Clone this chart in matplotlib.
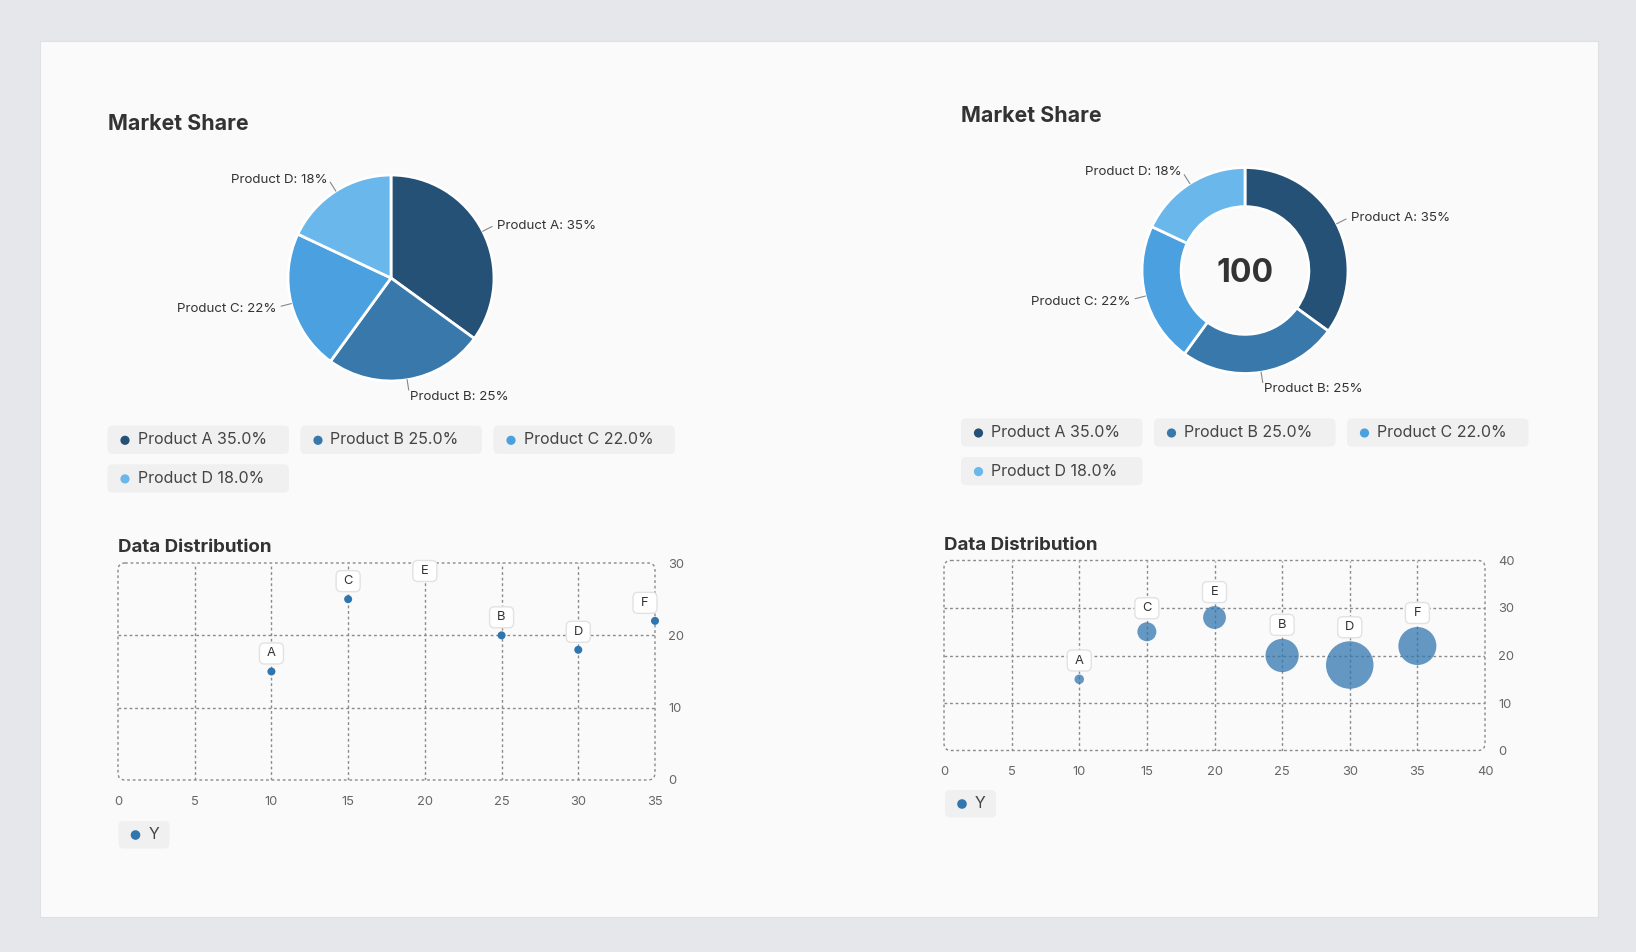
import numpy as np
import matplotlib
matplotlib.use("Agg")
import matplotlib.pyplot as plt
from matplotlib.patches import Rectangle, FancyBboxPatch, Circle

plt.rcParams['font.family'] = ['Inter', 'DejaVu Sans']

# data
products = ['Product A', 'Product B', 'Product C', 'Product D']
shares = [35, 25, 22, 18]
slice_colors = ['#245175', '#3878ab', '#4ba0e0', '#69b7eb']

pt_labels = ['A', 'B', 'C', 'D', 'E', 'F']
pt_x = [10, 25, 15, 30, 20, 35]
pt_y = [15, 20, 25, 18, 28, 22]
pt_z = [5, 17.5, 10, 25, 12, 20]

W, H = 1636, 952
fig = plt.figure(figsize=(W / 100, H / 100), dpi=100)
fig.patch.set_facecolor('#e6e7eb')


def rect(x0, y0, x1, y1):
    return [x0 / W, 1 - y1 / H, (x1 - x0) / W, (y1 - y0) / H]


bg = fig.add_axes([0, 0, 1, 1], zorder=0)
bg.set_xlim(0, W)
bg.set_ylim(H, 0)
bg.axis('off')
bg.add_patch(Rectangle((40, 41), 1558, 876, fc='#fafafa', ec='#e0e1e4', lw=0.8))

ov = fig.add_axes([0, 0, 1, 1], zorder=5)
ov.set_xlim(0, W)
ov.set_ylim(H, 0)
ov.axis('off')
ov.patch.set_alpha(0)

total = sum(shares)


def pie_panel(cx, cy, R, title_xy, legend_x, legend_y, donut):
    bg.text(title_xy[0], title_xy[1], 'Market Share', fontsize=15.4, fontweight='bold',
            color='#333333', va='center', ha='left')
    k = 1.7
    ax = fig.add_axes(rect(cx - k * R, cy - k * R, cx + k * R, cy + k * R), zorder=1)
    wp = dict(edgecolor='white', linewidth=2)
    if donut:
        wp['width'] = 0.38
    ax.pie(shares, colors=slice_colors, startangle=90, counterclock=False,
           radius=1, wedgeprops=wp)
    ax.set_xlim(-k, k)
    ax.set_ylim(-k, k)
    ax.patch.set_alpha(0)
    cum = 0
    for name, v in zip(products, shares):
        mid = np.deg2rad(90 - (cum + v / 2) / total * 360)
        cum += v
        c, s = np.cos(mid), np.sin(mid)
        ax.plot([1.0 * c, 1.1 * c], [1.0 * s, 1.1 * s], color='#888888', lw=0.8)
        ax.text(1.15 * c, 1.15 * s - 0.015, f'{name}: {v / total * 100:.0f}%', fontsize=9.6,
                color='#333333', ha='left' if c > 0 else 'right', va='center')
    if donut:
        ax.text(0, -0.03, f'{total}', fontsize=23, fontweight='bold', color='#333333',
                ha='center', va='center')
    # legend chips
    bw, bh, gap = 181.5, 28.2, 11.5
    for i, (name, v) in enumerate(zip(products, shares)):
        row, col = divmod(i, 3)
        x0 = legend_x + col * (bw + gap)
        y0 = legend_y + row * (bh + 10.4)
        bg.add_patch(FancyBboxPatch((x0, y0), bw, bh, boxstyle='round,pad=0,rounding_size=5',
                                    fc='#f0f0f0', ec='none'))
        bg.add_patch(Circle((x0 + 17.5, y0 + bh / 2 + 0.5), 4.6, fc=slice_colors[i], ec='none'))
        bg.text(x0 + 30, y0 + bh / 2, f'{name} {v / total * 100:.1f}%', fontsize=11.5,
                color='#444444', va='center', ha='left')


pie_panel(391, 278, 103, (107.5, 124.5), 107.5, 425.7, False)
pie_panel(1245, 270.5, 103, (961, 116.5), 961, 418.4, True)


def scatter_panel(x0, y0, x1, y1, xmax, ymax, bubble, title_xy, leg):
    bg.text(title_xy[0], title_xy[1], 'Data Distribution', fontsize=13.5, fontweight='bold',
            color='#333333', va='center', ha='left')
    ax = fig.add_axes(rect(x0, y0, x1, y1), zorder=1)
    ax.patch.set_alpha(0)
    ax.set_xlim(0, xmax)
    ax.set_ylim(0, ymax)
    xt = np.arange(0, xmax + 1, 5)
    yt = np.arange(0, ymax + 1, 10)
    ax.set_xticks(xt)
    ax.set_yticks(yt)
    for s in ax.spines.values():
        s.set_visible(False)
    ax.yaxis.tick_right()
    ax.tick_params(length=0, labelsize=9.3, colors='#666666')
    ax.tick_params(axis='x', pad=11.5)
    ax.tick_params(axis='y', pad=9.4)
    for v in xt[1:-1]:
        ax.axvline(v, color='#8a8a8a', lw=1, ls=(0, (2, 2)), zorder=1)
    for v in yt[1:-1]:
        ax.axhline(v, color='#8a8a8a', lw=1, ls=(0, (2, 2)), zorder=1)
    bg.add_patch(FancyBboxPatch((x0, y0), x1 - x0, y1 - y0,
                                boxstyle='round,pad=0,rounding_size=7',
                                fc='none', ec='#8a8a8a', lw=1, ls=(0, (2, 2))))
    if bubble:
        radii = [0.95 * z for z in pt_z]
        sizes = [(2 * r * 0.72) ** 2 for r in radii]
        ax.scatter(pt_x, pt_y, s=sizes, color='#3276ae', alpha=0.75, edgecolors='none',
                   zorder=3, clip_on=False)
    else:
        radii = [4] * len(pt_x)
        ax.scatter(pt_x, pt_y, s=(8 * 0.72) ** 2, color='#2f75ae', edgecolors='none',
                   zorder=3, clip_on=False)
    for lab, x, y, r in zip(pt_labels, pt_x, pt_y, radii):
        dx, dy = ax.transData.transform((x, y))
        px, py = dx, H - dy
        cy = max(py - (r + 14), y0 + 8)
        cx = min(px, x1 - 10)
        ov.add_patch(FancyBboxPatch((cx - 12, cy - 10.5), 24, 21,
                                    boxstyle='round,pad=0,rounding_size=5',
                                    fc='white', ec='#e2e2e2', lw=1))
        ov.text(cx, cy, lab, fontsize=9.3, color='#333333', ha='center', va='center')
    # legend chip
    lx0, ly0 = leg
    bg.add_patch(FancyBboxPatch((lx0, ly0), 51, 27.5, boxstyle='round,pad=0,rounding_size=5',
                                fc='#f0f0f0', ec='none'))
    bg.add_patch(Circle((lx0 + 17, ly0 + 14), 4.8, fc='#3276ae', ec='none'))
    bg.text(lx0 + 30, ly0 + 13.5, 'Y', fontsize=11.5, color='#444444', va='center', ha='left')


scatter_panel(118, 563, 655, 780, 35, 30, False, (118, 547.5), (118.5, 821))
scatter_panel(944, 560.5, 1485, 750.5, 40, 40, True, (944, 545), (945, 790))

fig.savefig('out.png', dpi=100, facecolor=fig.get_facecolor())
